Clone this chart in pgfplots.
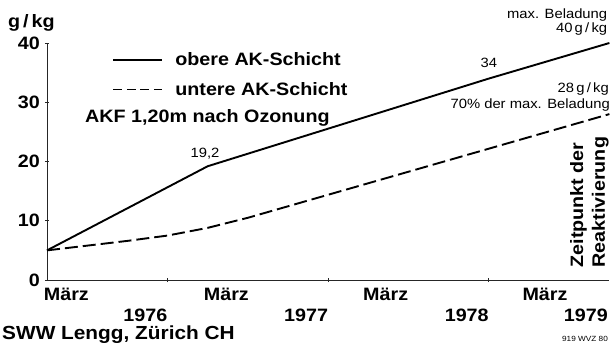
\documentclass[border=0pt]{standalone}
\usepackage{fontspec}
\setmainfont{Liberation Sans}[FakeStretch=1.1]
\usepackage{pgfplots}
\usepackage{pgfplotstable}
\pgfplotsset{compat=1.18}

% text sizes used in the figure
\newcommand\bigb{\bfseries\fontsize{18}{20}\selectfont}
\newcommand\smr{\fontsize{13.5}{15}\selectfont}

% Beladung in g/kg over months since March 1976
\pgfplotstableread{
month load
0     5
12    19.2
33    34
42    40
}\obere

\pgfplotstableread{
month load
0     5
3     5.8
6     6.6
9     7.5
12    8.8
15    10.5
42    28
}\untere

\begin{document}
\begin{tikzpicture}
\path[use as bounding box] (-47bp,-63bp) rectangle (564bp,280bp);
\begin{axis}[
  at={(0,0)}, anchor=south west,
  scale only axis, width=562.4bp, height=237bp,
  xmin=0, xmax=42, ymin=0, ymax=40,
  axis x line=bottom, axis y line=left,
  axis line style={-, line width=0.8bp, black!85},
  xtick={9,21,33}, xticklabels={},
  ytick={0,10,20,30,40},
  tick style={black!85, line width=0.8bp},
  major tick length=4bp,
  tick align=center,
  /pgf/number format/assume math mode=true,
  yticklabel style={font=\bigb, anchor=east, inner sep=0pt, xshift=-5bp},
  clip=false,
  legend cell align=left,
  legend style={draw=none, fill=none, at={(0.116,0.866)}, anchor=west,
    inner sep=0pt, font=\bigb, row sep=11bp,
    /tikz/every odd column/.append style={column sep=10bp}},
  legend image code/.code={\draw[#1] (0bp,0bp) -- (49bp,0bp);},
]
\addplot[black, line width=1.9bp] table[x=month, y=load] {\obere};
\addlegendentry{obere AK-Schicht}
\addplot[black, line width=1.9bp, dash pattern=on 13bp off 5bp,
  legend image post style={dash pattern=on 9bp off 4.5bp}]
  table[x=month, y=load] {\untere};
\addlegendentry{untere AK-Schicht}

% axis title and labels below the time axis
\node[font=\bigb, anchor=base] at (axis cs:-1.16,42.7) {g\,/\,kg};
\node[font=\bigb, anchor=base west, inner sep=0pt] at (axis cs:-0.25,-3.38) {März};
\node[font=\bigb, anchor=base west, inner sep=0pt] at (axis cs:11.7,-3.38) {März};
\node[font=\bigb, anchor=base west, inner sep=0pt] at (axis cs:23.6,-3.38) {März};
\node[font=\bigb, anchor=base west, inner sep=0pt] at (axis cs:35.5,-3.38) {März};
\node[font=\bigb, anchor=base east, inner sep=0pt] at (axis cs:9,-7.0) {1976};
\node[font=\bigb, anchor=base east, inner sep=0pt] at (axis cs:21,-7.0) {1977};
\node[font=\bigb, anchor=base east, inner sep=0pt] at (axis cs:33,-7.0) {1978};
\node[font=\bigb, anchor=base east, inner sep=0pt] at (axis cs:41.9,-7.0) {1979};
\node[font=\bfseries\fontsize{19}{21}\selectfont, anchor=base west, inner sep=0pt] at (axis cs:-3.36,-10.05) {SWW Lengg, Zürich CH};
\node[font=\fontsize{7.5}{8}\selectfont, anchor=base east, inner sep=0pt] at (axis cs:41.9,-10.3) {919 WVZ 80};

% annotations
\node[font=\bigb, anchor=base west, inner sep=0pt] at (axis cs:2.84,26.6) {AKF 1,20m nach Ozonung};
\node[font=\smr, anchor=base, inner sep=0pt] at (axis cs:11.8,20.6) {19,2};
\node[font=\smr, anchor=base, inner sep=0pt] at (axis cs:33,35.8) {34};
\node[font=\smr, anchor=base east, inner sep=0pt] at (axis cs:41.85,44.2) {max. Beladung};
\node[font=\smr, anchor=base east, inner sep=0pt] at (axis cs:41.85,41.8) {40\,g\,/\,kg};
\node[font=\smr, anchor=base east, inner sep=0pt] at (axis cs:41.97,31.6) {28\,g\,/\,kg};
\node[font=\smr, anchor=base east, inner sep=0pt] at (axis cs:42.05,29.0) {70\% der max. Beladung};
\node[font=\bigb, rotate=90, anchor=base west, inner sep=0pt] at (axis cs:40.03,2.1) {Zeitpunkt der};
\node[font=\bigb, rotate=90, anchor=base west, inner sep=0pt] at (axis cs:41.67,2.1) {Reaktivierung};
\end{axis}
\end{tikzpicture}
\end{document}
